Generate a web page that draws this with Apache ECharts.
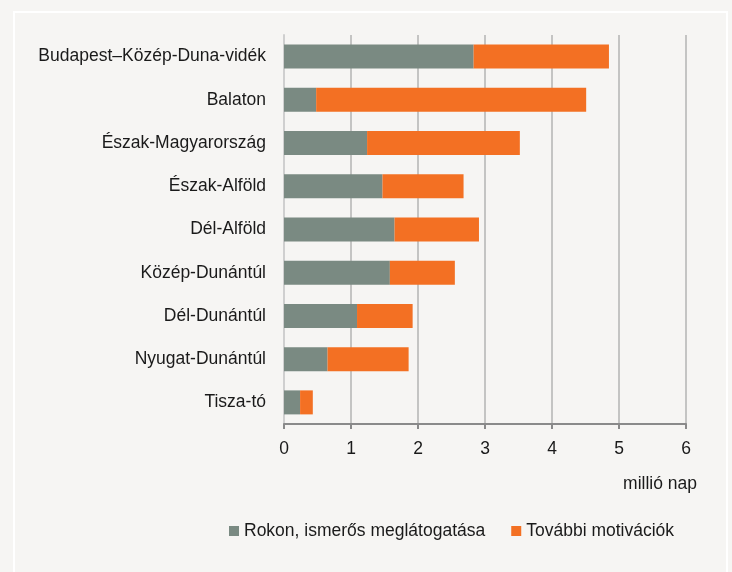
<!DOCTYPE html>
<html><head><meta charset="utf-8">
<script src="https://cdn.jsdelivr.net/npm/echarts@6/dist/echarts.min.js"></script>
<style>html,body{margin:0;padding:0;background:#f6f5f3;}#c{width:732px;height:572px;}</style>
</head><body><div id="c"></div>
<script>
const categories = ["Budapest–Közép-Duna-vidék","Balaton","Észak-Magyarország","Észak-Alföld","Dél-Alföld","Közép-Dunántúl","Dél-Dunántúl","Nyugat-Dunántúl","Tisza-tó"];
const rokon = [2.83,0.48,1.24,1.47,1.65,1.58,1.09,0.65,0.24];
const tovabbi = [2.02,4.03,2.28,1.21,1.26,0.97,0.83,1.21,0.19];
const seriesNames = ["Rokon, ismerős meglátogatása","További motivációk"];
const unitLabel = "millió nap";

const chart = echarts.init(document.getElementById('c'), null, {renderer:'canvas'});
const font = "'Liberation Sans', Arial, sans-serif";
const fs = 17.5;
chart.setOption({
  backgroundColor:'#f6f5f3',
  animation:false,
  textStyle:{fontFamily:font},
  grid:{left:284,right:46,top:35,bottom:148,containLabel:false},
  xAxis:{type:'value',min:0,max:6,interval:1,
    axisLine:{show:true,lineStyle:{color:'#8a8a8a',width:2}},
    axisTick:{show:true,length:5,lineStyle:{color:'#8a8a8a',width:2}},
    axisLabel:{color:'#1a1a1a',fontSize:fs,margin:16,fontFamily:font},
    splitLine:{show:true,lineStyle:{color:'#b3b3b3',width:1.5}}},
  yAxis:{type:'category',inverse:true,data:categories,
    axisLine:{show:true,lineStyle:{color:'#cfcfcf',width:2}},
    axisTick:{show:false},
    axisLabel:{color:'#1a1a1a',fontSize:fs,margin:18,fontFamily:font}},
  legend:{left:224,top:517,itemWidth:10,itemHeight:10,icon:'rect',itemGap:26,
    textStyle:{color:'#1a1a1a',fontSize:fs,fontFamily:font},data:seriesNames},
  graphic:[
    {type:'rect',shape:{x:14,y:12,width:713,height:570},style:{fill:'none',stroke:'#ffffff',lineWidth:2},silent:true},
    {type:'text',x:697,y:475,style:{text:unitLabel,textAlign:'right',fill:'#1a1a1a',font:fs+"px 'Liberation Sans', Arial, sans-serif"}}
  ],
  series:[
    {name:seriesNames[0],type:'bar',stack:'s',data:rokon,barWidth:24,itemStyle:{color:'#7a8a82'}},
    {name:seriesNames[1],type:'bar',stack:'s',data:tovabbi,barWidth:24,itemStyle:{color:'#f37023'}}
  ]
});
</script></body></html>
